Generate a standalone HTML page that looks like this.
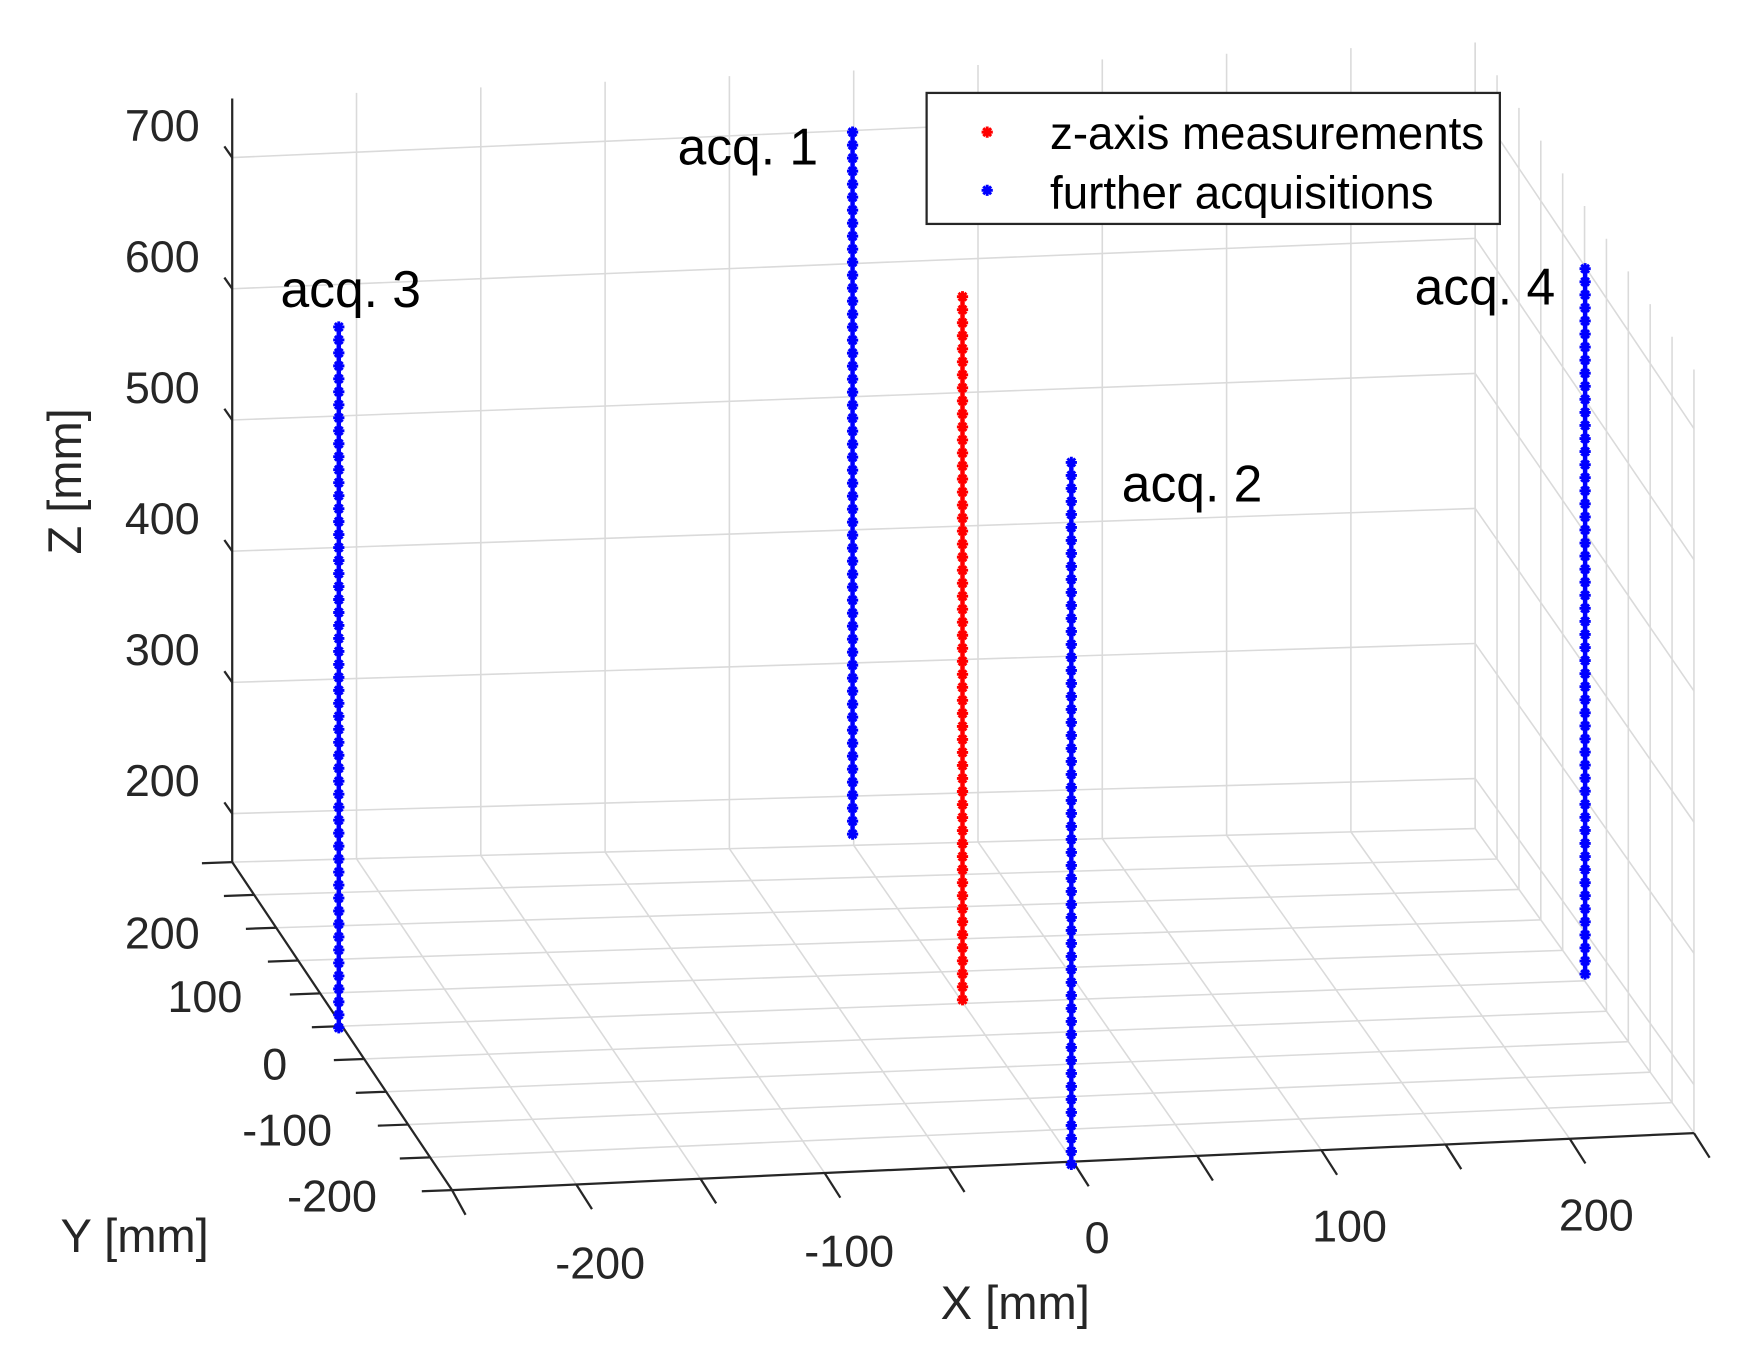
<!DOCTYPE html>
<html><head><meta charset="utf-8"><style>
html,body{margin:0;padding:0;background:#fff;}
svg{display:block;}
text{font-family:"Liberation Sans",Arial,sans-serif;}
</style></head><body>
<svg id="s" width="1759" height="1357" viewBox="0 0 1568 1212" preserveAspectRatio="none" xmlns="http://www.w3.org/2000/svg">
<rect width="1568" height="1212" fill="#fff"/>
<g id="grid" stroke="#dadada" stroke-width="1.4" fill="none"></g>
<g id="axes" stroke="#262626" stroke-width="2" fill="none"></g>
<g id="data"></g>
<g fill="#262626" font-size="40" text-anchor="end">
<text x="178" y="126">700</text>
<text x="178" y="243">600</text>
<text x="178" y="360">500</text>
<text x="178" y="477">400</text>
<text x="178" y="594">300</text>
<text x="178" y="711">200</text>
<text x="178" y="847">200</text>
<text x="216" y="904">100</text>
<text x="256" y="964">0</text>
<text x="296" y="1023">-100</text>
<text x="336" y="1082">-200</text>
</g>
<g fill="#262626" font-size="40" text-anchor="middle">
<text x="535" y="1142">-200</text>
<text x="757" y="1131">-100</text>
<text x="978" y="1119">0</text>
<text x="1203" y="1109">100</text>
<text x="1423" y="1099">200</text>
<text x="905" y="1178" font-size="42">X [mm]</text>
<text x="120" y="1118" font-size="42">Y [mm]</text>
<text transform="translate(72,430) rotate(-90)" font-size="42">Z [mm]</text>
</g>
<g fill="#000" font-size="46">
<text x="604" y="147">acq. 1</text>
<text x="250" y="274">acq. 3</text>
<text x="1000" y="448">acq. 2</text>
<text x="1261" y="272">acq. 4</text>
</g>
<rect x="826" y="83" width="511" height="117" fill="#fff" stroke="#262626" stroke-width="2"/>
<g font-size="41" fill="#000">
<text x="936" y="133" textLength="387" lengthAdjust="spacingAndGlyphs">z-axis measurements</text>
<text x="936" y="186" textLength="342" lengthAdjust="spacingAndGlyphs">further acquisitions</text>
</g>
<g id="leg"></g>
</svg>
<script>
var NS="http://www.w3.org/2000/svg";
function L(g,x1,y1,x2,y2){var l=document.createElementNS(NS,"line");l.setAttribute("x1",x1);l.setAttribute("y1",y1);l.setAttribute("x2",x2);l.setAttribute("y2",y2);g.appendChild(l);}
var G=document.getElementById("grid"),A=document.getElementById("axes"),D=document.getElementById("data");
var BL=[207,770],BR=[1315,740],FL=[403,1063],FR=[1510,1012];
var TL=[207,88],TR=[1315,38],TFR=[1510,330];
function lerp(a,b,t){return [a[0]+(b[0]-a[0])*t,a[1]+(b[1]-a[1])*t];}
function fl(u,v){var a=lerp(BL,BR,u),b=lerp(FL,FR,u);return lerp(a,b,v);}
for(var i=0;i<=10;i++){var t=i/10;var p=fl(t,0),q=fl(t,1);L(G,p[0],p[1],q[0],q[1]);p=fl(0,t);q=fl(1,t);L(G,p[0],p[1],q[0],q[1]);}
for(i=0;i<=10;i++){t=i/10;var b=lerp(BL,BR,t),tp=lerp(TL,TR,t);L(G,b[0],b[1],tp[0],tp[1]);}
for(i=0;i<=10;i++){t=i/10;var b=lerp(BR,FR,t),tp=lerp(TR,TFR,t);L(G,b[0],b[1],tp[0],tp[1]);}
var zmin=163,zmax=745;
function zy(bot,top,z){return bot[1]+(top[1]-bot[1])*(z-zmin)/(zmax-zmin);}
for(var z=200;z<=700;z+=100){
 var yl=zy(BL,TL,z),yr=zy(BR,TR,z),yf=zy(FR,TFR,z);
 L(G,207,yl,1315,yr);L(G,1315,yr,1510,yf);
 L(A,207,yl,200,yl-10);
}
L(A,207,770,207,88);L(A,BL[0],BL[1],FL[0],FL[1]);L(A,FL[0],FL[1],FR[0],FR[1]);
for(i=0;i<=10;i++){t=i/10;var p=lerp(BL,FL,t);L(A,p[0],p[1],p[0]-27,p[1]+1);}
for(i=1;i<=10;i++){t=i/10;var p=lerp(FL,FR,t);L(A,p[0],p[1],p[0]+14,p[1]+22);}
L(A,FL[0],FL[1],FL[0]+12,FL[1]+22);
function star(x,y,c,g){var e=document.createElementNS(NS,"path");var s=5;
 e.setAttribute("d","M"+(x-s)+" "+y+"h"+(2*s)+"M"+x+" "+(y-s)+"v"+(2*s)+"M"+(x-3.5)+" "+(y-3.5)+"l7 7M"+(x-3.5)+" "+(y+3.5)+"l7 -7");
 e.setAttribute("stroke",c);e.setAttribute("stroke-width","2.6");g.appendChild(e);}
function col(x,y0,y1,c){var n=Math.round((y0-y1)/11.6);var ln=document.createElementNS(NS,"line");
 ln.setAttribute("x1",x);ln.setAttribute("x2",x);ln.setAttribute("y1",y0);ln.setAttribute("y2",y1);ln.setAttribute("stroke",c);ln.setAttribute("stroke-width","4");D.appendChild(ln);
 for(var k=0;k<=n;k++){star(x,y0+(y1-y0)*k/n,c,D);}}
col(302,918,292,"#0000ff");
col(760,745,118,"#0000ff");
col(858,893,265,"#ff0000");
col(955,1040,413,"#0000ff");
col(1413,870,240,"#0000ff");
var Lg=document.getElementById("leg");star(880,118,"#ff0000",Lg);star(880,170,"#0000ff",Lg);
</script>
</body></html>
